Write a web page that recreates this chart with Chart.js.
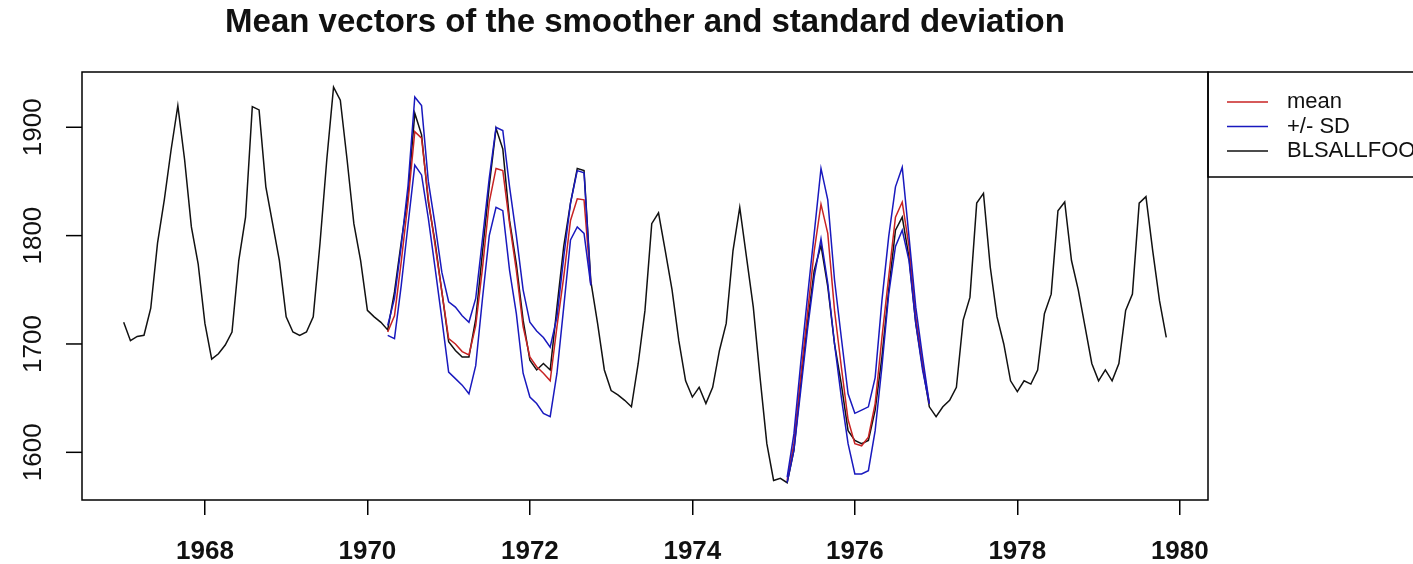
<!DOCTYPE html>
<html>
<head>
<meta charset="utf-8">
<script src="https://cdn.jsdelivr.net/npm/chart.js@4"></script>
<style>
  html, body { margin: 0; padding: 0; background: #fff; }
</style>
</head>
<body>
<canvas id="myChart" width="1413" height="564"></canvas>
<script>
// monthly series, Jan 1967 .. Nov 1979
const startYear = 1967;
const blsallfood = [
  1720, 1703, 1707, 1708, 1733, 1793, 1833, 1879, 1920, 1870, 1808, 1774, // 1967
  1719, 1686, 1691, 1699, 1711, 1777, 1817, 1919, 1916, 1845, 1811, 1777, // 1968
  1725, 1711, 1708, 1711, 1725, 1793, 1870, 1937, 1925, 1870, 1811, 1777, // 1969
  1731, 1725, 1720, 1713, 1748, 1794, 1837, 1913, 1893, 1831, 1794, 1748, // 1970
  1702, 1694, 1688, 1688, 1723, 1785, 1846, 1899, 1880, 1814, 1774, 1722, // 1971
  1685, 1676, 1682, 1676, 1734, 1790, 1830, 1862, 1860, 1758, 1719, 1676, // 1972
  1657, 1653, 1648, 1642, 1682, 1731, 1811, 1821, 1786, 1750, 1703, 1666, // 1973
  1651, 1660, 1645, 1660, 1694, 1719, 1786, 1826, 1780, 1734, 1669, 1608, // 1974
  1574, 1576, 1572, 1602, 1663, 1719, 1768, 1791, 1753, 1700, 1663, 1620, // 1975
  1611, 1608, 1611, 1639, 1688, 1750, 1805, 1817, 1780, 1719, 1679, 1642, // 1976
  1633, 1642, 1648, 1660, 1722, 1743, 1830, 1839, 1771, 1725, 1700, 1666, // 1977
  1656, 1666, 1663, 1676, 1728, 1746, 1823, 1831, 1777, 1750, 1716, 1682, // 1978
  1666, 1676, 1666, 1682, 1731, 1746, 1830, 1836, 1786, 1740, 1706        // 1979
];

// smoother, first window: Apr 1970 .. Oct 1972
const segAStart = 1970 + 3 / 12;
const meanA  = [1711, 1726, 1776, 1831, 1896, 1890, 1834, 1791, 1748, 1705, 1700, 1693, 1690, 1717, 1770, 1831,
                1862, 1860, 1811, 1768, 1716, 1688, 1679, 1673, 1666, 1716, 1762, 1814, 1834, 1833, 1755];
const upperA = [1717, 1742, 1791, 1846, 1928, 1920, 1850, 1810, 1766, 1739, 1734, 1726, 1720, 1742, 1797, 1853,
                1900, 1897, 1845, 1800, 1750, 1720, 1712, 1706, 1697, 1725, 1780, 1830, 1860, 1858, 1755];
const lowerA = [1708, 1705, 1754, 1810, 1865, 1856, 1816, 1770, 1723, 1674, 1668, 1662, 1654, 1680, 1742, 1800,
                1826, 1823, 1768, 1728, 1673, 1651, 1645, 1636, 1633, 1673, 1734, 1796, 1808, 1802, 1754];

// smoother, second window: Mar 1975 .. Dec 1976
const segBStart = 1975 + 2 / 12;
const meanB  = [1574, 1608, 1670, 1728, 1786, 1829, 1802, 1731, 1679, 1630, 1608,
                1606, 1614, 1645, 1706, 1762, 1817, 1831, 1790, 1725, 1682, 1645];
const upperB = [1577, 1617, 1682, 1743, 1802, 1862, 1833, 1759, 1706, 1654, 1636,
                1639, 1642, 1669, 1740, 1799, 1845, 1863, 1799, 1734, 1688, 1645];
const lowerB = [1572, 1602, 1657, 1713, 1762, 1797, 1756, 1700, 1651, 1608, 1580,
                1580, 1583, 1620, 1679, 1746, 1790, 1805, 1777, 1719, 1676, 1645];

const xTicks = [1968, 1970, 1972, 1974, 1976, 1978, 1980];
const yTicks = [1600, 1700, 1800, 1900];
const legendLabels = ["mean", "+/- SD", "BLSALLFOOD"];
const chartTitle = "Mean vectors of the smoother and standard deviation";

const RED = "rgb(200,35,35)";
const BLUE = "rgb(25,25,190)";
const BLACK = "#111";
const FONT = '"Liberation Sans", Arial, sans-serif';

function toPoints(start, vals) {
  return vals.map((v, i) => ({ x: start + i / 12, y: v }));
}

function line(data, color, order) {
  return { data: data, borderColor: color, borderWidth: 1.5, pointRadius: 0, fill: false, tension: 0, order: order };
}

const decor = {
  id: "decor",
  afterDraw(chart) {
    const ctx = chart.ctx;
    const a = chart.chartArea;
    const ys = chart.scales.y;
    ctx.save();
    ctx.strokeStyle = "#000";
    ctx.lineWidth = 1.5;
    ctx.strokeRect(a.left, a.top, a.right - a.left, a.bottom - a.top);

    // y axis, rotated labels like R
    ctx.fillStyle = BLACK;
    ctx.font = "26px " + FONT;
    yTicks.forEach((v) => {
      const py = ys.getPixelForValue(v);
      ctx.beginPath();
      ctx.moveTo(a.left - 16, py);
      ctx.lineTo(a.left, py);
      ctx.stroke();
      ctx.save();
      ctx.translate(34, py);
      ctx.rotate(-Math.PI / 2);
      ctx.textAlign = "center";
      ctx.textBaseline = "middle";
      ctx.fillText(String(v), 0, 0);
      ctx.restore();
    });

    // title
    ctx.font = "bold 33px " + FONT;
    ctx.textAlign = "center";
    ctx.textBaseline = "middle";
    ctx.fillText(chartTitle, (a.left + a.right) / 2, 23);

    // legend box, runs off the right edge
    const lx = a.right, ly = a.top, lh = 105;
    ctx.strokeRect(lx, ly, 400, lh);
    const colors = [RED, BLUE, BLACK];
    ctx.font = "22px " + FONT;
    ctx.textAlign = "left";
    legendLabels.forEach((lab, i) => {
      const ry = ly + 30 + i * 24.5;
      ctx.strokeStyle = colors[i];
      ctx.lineWidth = 1.6;
      ctx.beginPath();
      ctx.moveTo(lx + 19, ry);
      ctx.lineTo(lx + 60, ry);
      ctx.stroke();
      ctx.fillStyle = BLACK;
      ctx.fillText(lab, lx + 79, ry);
    });
    ctx.restore();
  }
};

const config = {
  type: "line",
  data: {
    datasets: [
      line(toPoints(segAStart, meanA), RED, 2),
      line(toPoints(segAStart, upperA), BLUE, 1),
      line(toPoints(segAStart, lowerA), BLUE, 1),
      line(toPoints(segBStart, meanB), RED, 2),
      line(toPoints(segBStart, upperB), BLUE, 1),
      line(toPoints(segBStart, lowerB), BLUE, 1),
      line(toPoints(startYear, blsallfood), BLACK, 3)
    ]
  },
  options: {
    responsive: false,
    animation: false,
    devicePixelRatio: 1,
    layout: { padding: { left: 82, right: 205, top: 72, bottom: 0 } },
    plugins: { legend: { display: false }, tooltip: { enabled: false } },
    scales: {
      x: {
        type: "linear",
        min: 1966.487,
        max: 1980.347,
        afterBuildTicks: (s) => { s.ticks = xTicks.map((v) => ({ value: v })); },
        afterFit: (s) => { s.height = 64; },
        grid: { drawOnChartArea: false, drawTicks: true, tickLength: 15, color: "#000", lineWidth: 1.5 },
        border: { display: false },
        ticks: { color: BLACK, font: { size: 26, family: FONT, weight: "bold" }, padding: 21, maxRotation: 0, callback: (v) => String(v) }
      },
      y: {
        display: false,
        min: 1556,
        max: 1951
      }
    }
  },
  plugins: [decor]
};

new Chart(document.getElementById("myChart"), config);
</script>
</body>
</html>
